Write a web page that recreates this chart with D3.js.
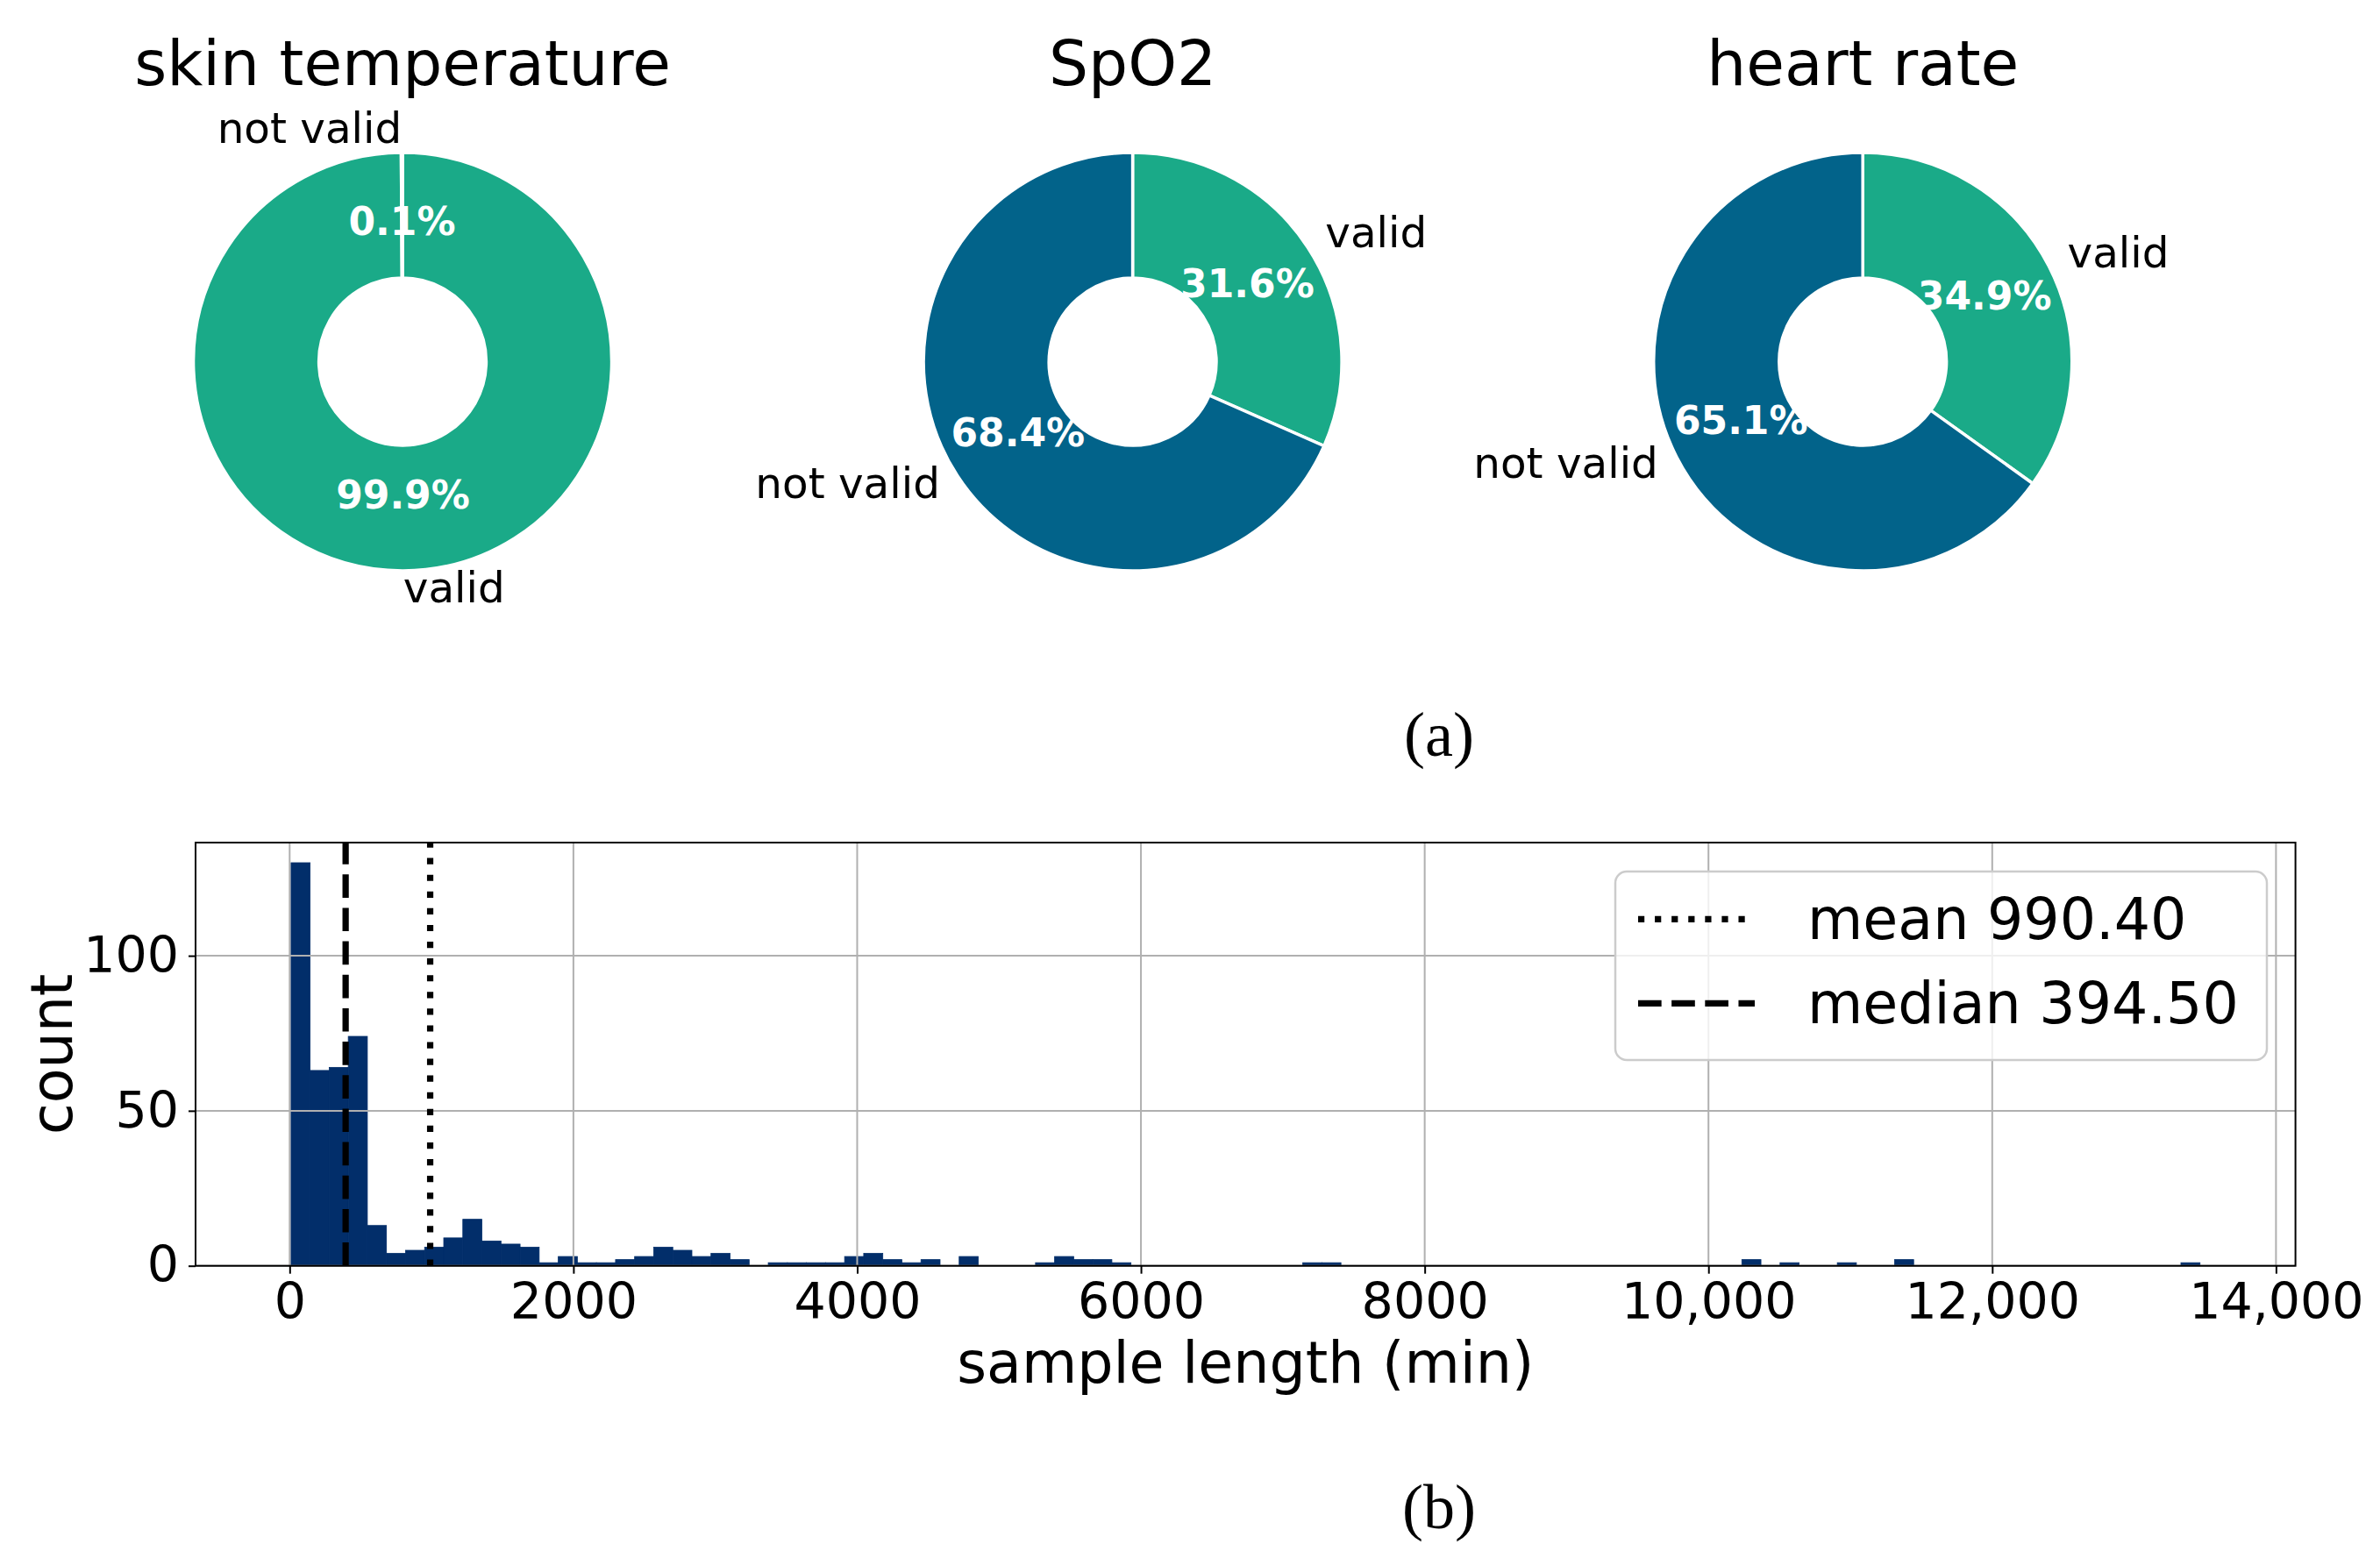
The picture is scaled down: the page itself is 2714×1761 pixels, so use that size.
<!DOCTYPE html>
<html>
<head>
<meta charset="utf-8">
<script src="https://cdn.jsdelivr.net/npm/d3@7/dist/d3.min.js"></script>
<style>
	body { margin: 0; background: #fff; }
	svg { display: block; }
	text { font-family: "DejaVu Sans", sans-serif; }
</style>
</head>
<body>
<svg id="chart"></svg>
<script>
// ---- data: pie charts (a) ----
const sensors = ["skin temperature", "SpO2", "heart rate"];
const sliceNames = ["valid", "not valid"];
const validPct = [99.9, 31.6, 34.9];
const notValidPct = [0.1, 68.4, 65.1];

// ---- data: histogram (b), 100 equal bins ----
const binStart = 9.5;
const binWidth = 134.55;
const binCounts = [
	130, 63, 64, 74, 13, 4, 5, 6, 9, 15,
	8, 7, 6, 1, 3, 1, 1, 2, 3, 6,
	5, 3, 4, 2, 0, 1, 1, 1, 1, 3,
	4, 2, 1, 2, 0, 3, 0, 0, 0, 1,
	3, 2, 2, 1, 0, 0, 0, 0, 0, 0,
	0, 0, 0, 1, 1, 0, 0, 0, 0, 0,
	0, 0, 0, 0, 0, 0, 0, 0, 0, 0,
	0, 0, 0, 0, 0, 0, 2, 0, 1, 0,
	0, 1, 0, 0, 2, 0, 0, 0, 0, 0,
	0, 0, 0, 0, 0, 0, 0, 0, 0, 1
];
const meanLen = 990.40;
const medianLen = 394.50;
const xTicks = [0, 2000, 4000, 6000, 8000, 10000, 12000, 14000];
const yTicks = [0, 50, 100];

const W = 2714, H = 1761;
const svg = d3.select("#chart").attr("width", W).attr("height", H);

// ================= (a) donut charts =================
const R = 238.5;
const pieY = 412.5;
const colors = { "valid": "#1aaa88", "not valid": "#02638a" };

const pieX = d3.scalePoint()
	.domain(sensors)
	.range([459, 2124.2]);

const pie = d3.pie()
	.sort(null)
	.value(d => d.value);

const arc = d3.arc()
	.innerRadius(0.4 * R)
	.outerRadius(R);

sensors.forEach((name, i) => {
	const slices = [
		{ name: sliceNames[0], value: validPct[i] },
		{ name: sliceNames[1], value: notValidPct[i] }
	];
	const g = svg.append("g")
		.attr("transform", `translate(${pieX(name)},${pieY})`);

	const arcs = pie(slices);

	g.selectAll(".wedge")
		.data(arcs)
		.join("path")
		.attr("class", "wedge")
		.attr("d", arc)
		.attr("fill", d => colors[d.data.name])
		.attr("stroke", "#fff")
		.attr("stroke-width", 3.5);

	// outside labels, like matplotlib labeldistance=1.1
	const labelFs = 48.4;
	g.selectAll(".lbl")
		.data(arcs)
		.join("text")
		.attr("class", "lbl")
		.attr("x", d => 1.1 * R * Math.sin((d.startAngle + d.endAngle) / 2))
		.attr("y", d => -1.1 * R * Math.cos((d.startAngle + d.endAngle) / 2) + 0.26 * labelFs)
		.attr("text-anchor", d => Math.sin((d.startAngle + d.endAngle) / 2) > 0 ? "start" : "end")
		.attr("font-size", labelFs)
		.attr("fill", "#000")
		.text(d => d.data.name);

	// percentages inside the ring
	const pctFs = 44;
	g.selectAll(".pct")
		.data(arcs)
		.join("text")
		.attr("class", "pct")
		.attr("x", d => 0.655 * R * Math.sin((d.startAngle + d.endAngle) / 2))
		.attr("y", d => -0.655 * R * Math.cos((d.startAngle + d.endAngle) / 2) + 0.26 * pctFs)
		.attr("text-anchor", "middle")
		.attr("font-size", pctFs)
		.attr("font-weight", "bold")
		.attr("fill", "#fff")
		.text(d => d.data.value.toFixed(1) + "%");

	g.append("text")
		.attr("x", 0)
		.attr("y", 96.5 - pieY)
		.attr("text-anchor", "middle")
		.attr("font-size", 71)
		.attr("fill", "#000")
		.text(name);
});

svg.append("text")
	.attr("x", 1641)
	.attr("y", 862)
	.attr("text-anchor", "middle")
	.attr("font-size", 72)
	.style("font-family", "'Liberation Serif', serif")
	.text("(a)");

// ================= (b) histogram =================
const ax = { left: 223, right: 2617.6, top: 961, bottom: 1443.7 };

const edges = binCounts.map((c, i) => binStart + i * binWidth);
const dataMin = binStart;
const dataMax = binStart + binCounts.length * binWidth;
const pad = 0.05 * (dataMax - dataMin);

const xScale = d3.scaleLinear()
	.domain([dataMin - pad, dataMax + pad])
	.range([ax.left, ax.right]);

const yScale = d3.scaleLinear()
	.domain([0, d3.max(binCounts) * 1.05])
	.range([ax.bottom, ax.top]);

const hist = svg.append("g");

hist.selectAll(".bar")
	.data(binCounts.map((c, i) => ({ x0: edges[i], x1: edges[i] + binWidth, count: c })).filter(d => d.count > 0))
	.join("rect")
	.attr("class", "bar")
	.attr("x", d => xScale(d.x0))
	.attr("width", d => xScale(d.x1) - xScale(d.x0))
	.attr("y", d => yScale(d.count))
	.attr("height", d => yScale(0) - yScale(d.count))
	.attr("fill", "#022e6a")
	.attr("stroke", "#022e6a")
	.attr("stroke-width", 0.8);

// grid (drawn above the bars, as in the source)
hist.selectAll(".vgrid")
	.data(xTicks)
	.join("line")
	.attr("class", "vgrid")
	.attr("x1", d => xScale(d)).attr("x2", d => xScale(d))
	.attr("y1", ax.top).attr("y2", ax.bottom)
	.attr("stroke", "#b0b0b0").attr("stroke-width", 2);

hist.selectAll(".hgrid")
	.data(yTicks)
	.join("line")
	.attr("class", "hgrid")
	.attr("x1", ax.left).attr("x2", ax.right)
	.attr("y1", d => yScale(d)).attr("y2", d => yScale(d))
	.attr("stroke", "#b0b0b0").attr("stroke-width", 2);

// mean / median lines, dashes start at the bottom like matplotlib axvline
const lw = 7.2;
const refLines = [
	{ value: meanLen, label: "mean " + meanLen.toFixed(2), dash: `${lw},${1.65 * lw}` },
	{ value: medianLen, label: "median " + medianLen.toFixed(2), dash: `${3.7 * lw},${1.6 * lw}` }
];

hist.selectAll(".ref")
	.data(refLines)
	.join("line")
	.attr("class", "ref")
	.attr("x1", d => xScale(d.value)).attr("x2", d => xScale(d.value))
	.attr("y1", ax.bottom).attr("y2", ax.top)
	.attr("stroke", "#000")
	.attr("stroke-width", lw)
	.attr("stroke-dasharray", d => d.dash);

// axes
const fmtX = d => d >= 10000 ? d3.format(",")(d) : String(d);

const xAxisG = svg.append("g")
	.attr("transform", `translate(0,${ax.bottom})`)
	.call(d3.axisBottom(xScale).tickValues(xTicks).tickFormat(fmtX).tickSize(9).tickPadding(11))
	.attr("font-family", "DejaVu Sans")
	.attr("font-size", 57);

const yAxisG = svg.append("g")
	.attr("transform", `translate(${ax.left},0)`)
	.call(d3.axisLeft(yScale).tickValues(yTicks).tickSize(8).tickPadding(11))
	.attr("font-family", "DejaVu Sans")
	.attr("font-size", 57);

[xAxisG, yAxisG].forEach(g => {
	g.select(".domain").remove();
	g.selectAll(".tick line").attr("stroke-width", 2);
	g.selectAll(".tick text").attr("fill", "#000");
});

// spines
svg.append("rect")
	.attr("x", ax.left).attr("y", ax.top)
	.attr("width", ax.right - ax.left)
	.attr("height", ax.bottom - ax.top)
	.attr("fill", "none")
	.attr("stroke", "#000")
	.attr("stroke-width", 2);

svg.append("text")
	.attr("transform", `translate(82,${(ax.top + ax.bottom) / 2}) rotate(-90)`)
	.attr("text-anchor", "middle")
	.attr("font-size", 65)
	.text("count");

svg.append("text")
	.attr("x", (ax.left + ax.right) / 2)
	.attr("y", 1577)
	.attr("text-anchor", "middle")
	.attr("font-size", 65)
	.text("sample length (min)");

// legend
const legend = svg.append("g");
legend.append("rect")
	.attr("x", 1842).attr("y", 994)
	.attr("width", 2585 - 1842).attr("height", 1209 - 994)
	.attr("rx", 13)
	.attr("fill", "#fff").attr("fill-opacity", 0.8)
	.attr("stroke", "#cccccc").attr("stroke-width", 2.5);

const legRow = d3.scaleLinear().domain([0, 1]).range([1048.3, 1144.3]);

refLines.forEach((d, i) => {
	legend.append("line")
		.attr("x1", 1868).attr("x2", 2001)
		.attr("y1", legRow(i)).attr("y2", legRow(i))
		.attr("stroke", "#000")
		.attr("stroke-width", lw)
		.attr("stroke-dasharray", d.dash);
	legend.append("text")
		.attr("x", 2061)
		.attr("y", legRow(i) + 22.6)
		.attr("font-size", 65)
		.text(d.label);
});

svg.append("text")
	.attr("x", 1641)
	.attr("y", 1743)
	.attr("text-anchor", "middle")
	.attr("font-size", 72)
	.style("font-family", "'Liberation Serif', serif")
	.text("(b)");
</script>
</body>
</html>
